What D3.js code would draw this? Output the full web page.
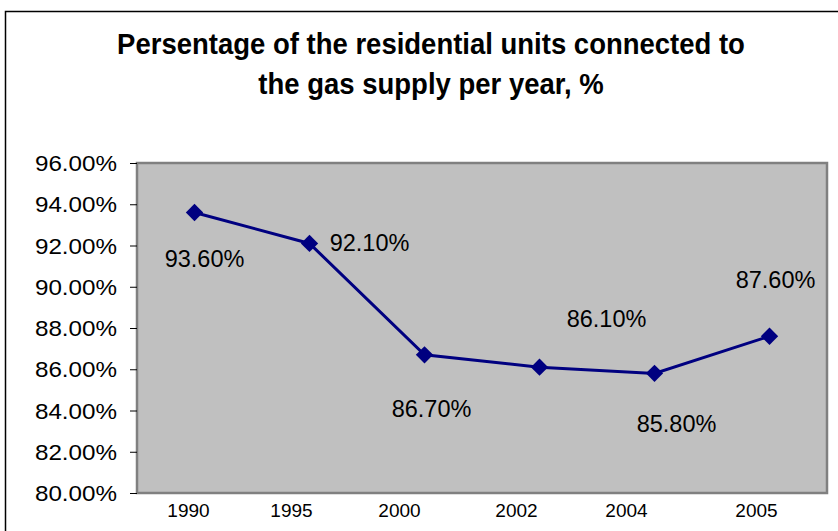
<!DOCTYPE html>
<html>
<head>
<meta charset="utf-8">
<script src="https://cdn.jsdelivr.net/npm/d3@7"></script>
<style>
  body { margin: 0; background: #fff; }
  text { font-family: "Liberation Sans", Arial, sans-serif; }
</style>
</head>
<body>
<script>
// chart data
const years = ['1990', '1995', '2000', '2002', '2004', '2005'];
const values = [93.6, 92.1, 86.7, 86.1, 85.8, 87.6];
const yTicks = [80, 82, 84, 86, 88, 90, 92, 94, 96];
const titleLines = ['Persentage of the residential units connected to', 'the gas supply per year, %'];

// label placement (px offsets from the marker, as in the original)
const labelOffsets = [[10, 54], [60, 8], [7, 62], [67, -40], [22, 59], [6, -48]];
const yearShift = [-6, -18, -25, -23, -28, -13];

const W = 838, H = 531;
const plot = { left: 137, top: 163, right: 827, bottom: 493 };

const svg = d3.select('body').append('svg')
    .attr('width', W)
    .attr('height', H);

// outer chart frame
svg.append('rect')
    .attr('x', 5.5).attr('y', 11.5)
    .attr('width', W + 10).attr('height', H + 10)
    .style('fill', '#fff')
    .style('stroke', '#000')
    .style('stroke-width', 1.5);

svg.append('text')
    .attr('text-anchor', 'middle')
    .attr('transform', 'translate(431,0) scale(1,1.08)')
    .style('font-weight', 'bold')
    .style('font-size', '27.5px')
    .selectAll('tspan')
    .data(titleLines)
    .enter()
    .append('tspan')
    .attr('x', 0)
    .attr('y', (d, i) => 50 + i * 37)
    .text(d => d);

const x = d3.scaleBand()
    .domain(years)
    .range([plot.left, plot.right]);

const y = d3.scaleLinear()
    .domain([80, 96])
    .range([plot.bottom, plot.top]);

svg.append('rect')
    .attr('x', plot.left).attr('y', plot.top)
    .attr('width', plot.right - plot.left)
    .attr('height', plot.bottom - plot.top)
    .style('fill', '#c0c0c0')
    .style('stroke', '#808080')
    .style('stroke-width', 2.5);

// y axis
const yAxis = svg.append('g')
    .attr('transform', `translate(${plot.left},0)`)
    .call(d3.axisLeft(y).tickValues(yTicks).tickSize(7).tickFormat(d => d.toFixed(2) + '%'));
yAxis.select('.domain').remove();
yAxis.selectAll('.tick line').style('stroke', '#000');
yAxis.selectAll('.tick text')
    .attr('x', 0)
    .attr('transform', 'translate(-20,0) scale(1.1,1)')
    .attr('dy', '0.35em')
    .style('font-size', '22px')
    .style('font-family', '"Liberation Sans", Arial, sans-serif')
    .style('fill', '#000');

// x labels
svg.selectAll('.year')
    .data(years)
    .enter()
    .append('text')
    .attr('class', 'year')
    .attr('x', (d, i) => x(d) + x.bandwidth() / 2 + yearShift[i])
    .attr('y', 517)
    .attr('text-anchor', 'middle')
    .style('font-size', '19px')
    .text(d => d);

const pts = years.map((d, i) => [x(d) + x.bandwidth() / 2, y(values[i])]);

svg.append('path')
    .datum(pts)
    .attr('d', d3.line())
    .style('fill', 'none')
    .style('stroke', '#000080')
    .style('stroke-width', 3);

svg.selectAll('.marker')
    .data(pts)
    .enter()
    .append('path')
    .attr('class', 'marker')
    .attr('d', d3.symbol().type(d3.symbolSquare).size(150))
    .attr('transform', d => `translate(${d[0]},${d[1]}) rotate(45)`)
    .style('fill', '#000080');

svg.selectAll('.label')
    .data(values)
    .enter()
    .append('text')
    .attr('class', 'label')
    .attr('x', (d, i) => pts[i][0] + labelOffsets[i][0])
    .attr('y', (d, i) => pts[i][1] + labelOffsets[i][1])
    .attr('text-anchor', 'middle')
    .style('font-size', '23.5px')
    .text(d => d.toFixed(2) + '%');
</script>
</body>
</html>
